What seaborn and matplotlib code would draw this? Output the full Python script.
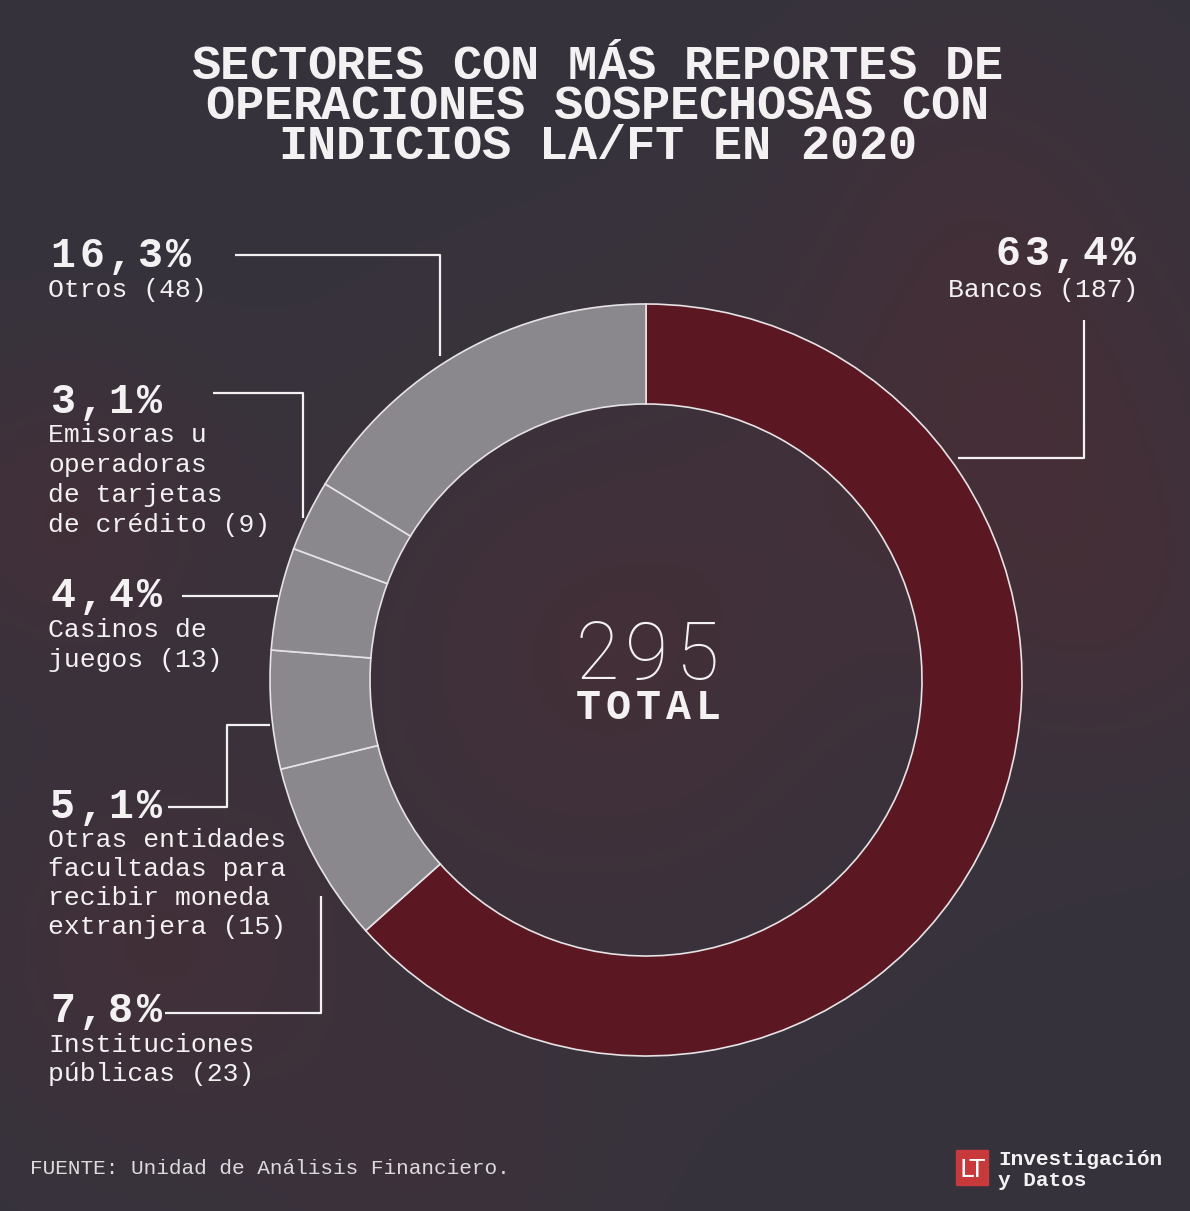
import numpy as np
import pandas as pd
import seaborn as sns
import matplotlib
matplotlib.use("Agg")
import matplotlib.pyplot as plt

# ---------------- data ----------------
sectors = ["Bancos", "Instituciones públicas",
           "Otras entidades facultadas para recibir moneda extranjera",
           "Casinos de juegos",
           "Emisoras u operadoras de tarjetas de crédito", "Otros"]
counts = [187, 23, 15, 13, 9, 48]
percent_labels = ["63,4%", "7,8%", "5,1%", "4,4%", "3,1%", "16,3%"]
label_lines = [["Bancos (187)"],
               ["Instituciones", "públicas (23)"],
               ["Otras entidades", "facultadas para", "recibir moneda", "extranjera (15)"],
               ["Casinos de", "juegos (13)"],
               ["Emisoras u", "operadoras", "de tarjetas", "de crédito (9)"],
               ["Otros (48)"]]
total = sum(counts)
title_lines = ["SECTORES CON MÁS REPORTES DE",
               "OPERACIONES SOSPECHOSAS CON",
               "INDICIOS LA/FT EN 2020"]
source = "FUENTE: Unidad de Análisis Financiero."

df = pd.DataFrame({"sector": sectors, "count": counts})

# ---------------- style ----------------
sns.set_theme(style="dark")
BG = "#37343e"
WHITE = "#f3f1f2"
RED = "#5c1822"
GREY = "#8b888d"
colors = [RED] + [GREY] * (len(counts) - 1)
MONO = ["Liberation Mono", "DejaVu Sans Mono"]
plt.rcParams["font.family"] = MONO

W, H = 1190, 1211
fig = plt.figure(figsize=(W / 100, H / 100), dpi=100, facecolor=BG)
ax = fig.add_axes([0, 0, 1, 1])
ax.set_facecolor(BG)

def Y(y):
    return H - y

# background texture (soft reddish glows)
gy, gx = np.mgrid[0:H:5, 0:W:5]
w = np.zeros_like(gx, dtype=float)
for cx, cy, s, a in [(1000, 400, 170, 0.35), (600, 660, 200, 0.32), (60, 520, 110, 0.30),
                     (150, 950, 130, 0.30), (1120, 620, 120, 0.20), (960, 160, 110, 0.12),
                     (420, 1160, 120, 0.15)]:
    w += a * np.exp(-((gx - cx) ** 2 + (gy - cy) ** 2) / (2 * s ** 2))
w = np.clip(w, 0, 0.6)
base = np.array([0.212, 0.200, 0.238])
tint = np.array([0.36, 0.16, 0.19])
img = base[None, None, :] * (1 - w[..., None]) + tint[None, None, :] * w[..., None]
ax.imshow(img, extent=(0, W, 0, H), origin="upper", zorder=0, aspect="auto")

# ---------------- donut ----------------
cx, cy, R = 646, 680, 376
ax.pie(df["count"], colors=colors, radius=R, center=(cx, Y(cy)), startangle=90,
       counterclock=False, frame=False,
       wedgeprops=dict(width=100, edgecolor="#e6e3e6", linewidth=1.2, zorder=2))
ax.set_xlim(0, W)
ax.set_ylim(0, H)
ax.set_aspect("auto")
ax.axis("off")

# ---------------- text helpers ----------------
def mono(x, y, s, adv, ha="left", **kw):
    n = len(s)
    x0 = x if ha == "left" else (x - n * adv if ha == "right" else x - n * adv / 2)
    for i, c in enumerate(s):
        ax.text(x0 + (i + 0.5) * adv, Y(y), c, ha="center", va="baseline",
                color=WHITE, zorder=5, **kw)

def plain(x, y, s, size=19, ha="left", weight="normal"):
    ax.text(x, Y(y), s, ha=ha, va="baseline", color=WHITE, fontsize=size,
            fontweight=weight, zorder=5)

# title
for ln, yb in zip(title_lines, [79, 119, 159]):
    mono(597, yb, ln, 29, ha="center", fontsize=35, fontweight="bold")

# labels: (percent baseline y, first line baseline y, x, ha)
label_pos = [(265, 297, 1138, "right"),
             (1022, 1052, 48, "left"),
             (818, 847, 48, "left"),
             (607, 637, 48, "left"),
             (413, 442, 48, "left"),
             (267, 297, 48, "left")]
line_gap = [30, 29, 29, 30, 30, 30]
for pct, lines, (py, ly, x, ha), gap in zip(percent_labels, label_lines, label_pos, line_gap):
    mono(x, py, pct, 29, ha=ha, fontsize=30, fontweight="bold")
    for k, ln in enumerate(lines):
        plain(x, ly + k * gap, ln, ha=ha)

# leader lines (image pixel coordinates)
leaders = [
    [(958, 458), (1084, 458), (1084, 320)],
    [(165, 1013), (321, 1013), (321, 896)],
    [(168, 807), (227, 807), (227, 725), (270, 725)],
    [(182, 596), (278, 596)],
    [(213, 393), (303, 393), (303, 518)],
    [(235, 255), (440, 255), (440, 356)],
]
for pts in leaders:
    xs = [p[0] for p in pts]
    ys = [Y(p[1]) for p in pts]
    ax.plot(xs, ys, color=WHITE, lw=1.6, zorder=4, solid_capstyle="butt")

# center total
mono(647, 679, str(total), 50, ha="center", fontsize=57,
     family=["Roboto", "DejaVu Sans"], fontweight="light")
mono(648, 719, "TOTAL", 30, ha="center", fontsize=30, fontweight="bold")

# footer
ax.text(30, Y(1174), source, ha="left", va="baseline", color="#dcdadc",
        fontsize=15.2, zorder=5)

# logo
ax.add_patch(plt.Rectangle((956, Y(1185)), 32, 35, color="#c8393b", zorder=5))
ax.text(972, Y(1177), "LT", ha="center", va="baseline", color="white", fontsize=18,
        family=["DejaVu Sans"], zorder=6)
ax.text(998, Y(1165), "Investigación", ha="left", va="baseline", color=WHITE,
        fontsize=15.2, fontweight="bold", zorder=5)
ax.text(998, Y(1186), "y Datos", ha="left", va="baseline", color=WHITE,
        fontsize=15.2, fontweight="bold", zorder=5)

fig.savefig("out.png", dpi=100, facecolor=BG)
